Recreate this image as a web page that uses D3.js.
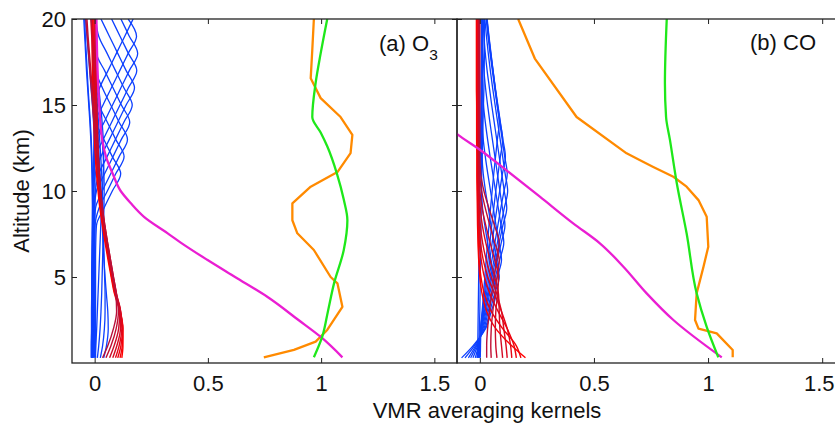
<!DOCTYPE html>
<html><head><meta charset="utf-8">
<script src="https://cdn.jsdelivr.net/npm/d3@7"></script>
<style>
body{margin:0;background:#fff}
svg{display:block;font-family:"Liberation Sans",Arial,Helvetica,sans-serif}
</style>
</head><body>
<svg id="chart" width="835" height="425"></svg>
<script>
// ---------- data ----------
const xTicks = [0, 0.5, 1, 1.5];
const yTicks = [5, 10, 15, 20];
const xLabel = "VMR averaging kernels";
const yLabel = "Altitude (km)";

// altitude grid of the averaging-kernel rows (km)
const kernelAlt = [0.3,1,2,3,4,5,6,7,8,9,10,11,12,13,14,15,16,17,18,19,20];

// (a) O3 — low-level kernels (red)
const o3KernelsLow = [
 [0.120,0.125,0.124,0.112,0.088,0.073,0.059,0.046,0.034,0.023,0.015,0.008,0.003,-0.001,-0.004,-0.007,-0.009,-0.010,-0.011,-0.011,-0.011],
 [0.112,0.122,0.125,0.113,0.090,0.075,0.062,0.049,0.037,0.026,0.018,0.012,0.007,0.003,0.000,-0.003,-0.005,-0.006,-0.007,-0.007,-0.007],
 [0.102,0.116,0.123,0.114,0.092,0.077,0.064,0.051,0.039,0.028,0.021,0.015,0.011,0.007,0.004,0.001,-0.001,-0.002,-0.003,-0.003,-0.003],
 [0.092,0.108,0.120,0.115,0.094,0.079,0.066,0.053,0.041,0.031,0.024,0.018,0.014,0.011,0.008,0.006,0.004,0.003,0.002,0.001,0.001],
 [0.080,0.098,0.114,0.114,0.096,0.081,0.068,0.055,0.043,0.033,0.026,0.021,0.017,0.014,0.012,0.010,0.008,0.007,0.006,0.005,0.005],
 [0.066,0.086,0.106,0.111,0.097,0.083,0.070,0.057,0.045,0.035,0.027,0.021,0.016,0.011,0.007,0.003,-0.001,-0.005,-0.009,-0.013,-0.017],
 [0.050,0.072,0.095,0.105,0.096,0.083,0.070,0.057,0.045,0.034,0.026,0.019,0.013,0.007,0.001,-0.005,-0.011,-0.017,-0.023,-0.029,-0.034],
 [0.035,0.058,0.083,0.097,0.093,0.081,0.068,0.055,0.043,0.032,0.023,0.016,0.009,0.003,-0.003,-0.009,-0.015,-0.021,-0.027,-0.033,-0.039]
];
// (a) O3 — mid and upper-level kernels (blue)
const o3KernelsHigh = [
 [0.040,0.052,0.060,0.058,0.052,0.046,0.041,0.037,0.034,0.031,0.028,0.024,0.020,0.016,0.012,0.008,0.004,0.000,-0.004,-0.008,-0.012],
 [0.025,0.035,0.043,0.046,0.046,0.044,0.042,0.040,0.038,0.036,0.034,0.031,0.027,0.022,0.017,0.012,0.007,0.002,-0.003,-0.008,-0.013],
 [0.012,0.018,0.024,0.028,0.031,0.033,0.035,0.037,0.039,0.041,0.042,0.041,0.038,0.033,0.027,0.020,0.013,0.006,-0.001,-0.008,-0.015],
 [0.002,0.005,0.009,0.012,0.015,0.018,0.021,0.024,0.027,0.030,0.034,0.038,0.040,0.038,0.033,0.026,0.018,0.010,0.002,-0.006,-0.014],
 [-0.008,-0.007,-0.006,-0.005,-0.004,-0.003,-0.002,-0.001,0.000,0.001,0.002,0.001,0.000,-0.002,-0.005,-0.010,-0.016,-0.022,-0.028,-0.034,-0.040],
 [-0.013,-0.013,-0.012,-0.012,-0.011,-0.011,-0.010,-0.010,-0.010,-0.010,-0.011,-0.012,-0.014,-0.017,-0.021,-0.026,-0.031,-0.036,-0.040,-0.044,-0.048],
 [-0.010,-0.010,-0.009,-0.008,-0.007,-0.006,-0.005,-0.005,-0.006,-0.007,-0.008,-0.010,-0.012,-0.015,-0.019,-0.024,-0.029,-0.033,-0.037,-0.041,-0.044],
 [0.004,0.004,0.004,0.004,0.004,0.004,0.004,0.005,0.008,0.041,0.078,0.115,0.078,0.041,0.008,0.006,0.006,0.006,0.006,0.006,0.006],
 [0.000,0.000,0.000,0.000,0.000,0.000,0.000,0.001,0.002,0.019,0.056,0.093,0.130,0.093,0.056,0.019,0.005,0.004,0.004,0.004,0.004],
 [-0.004,-0.004,-0.004,-0.004,-0.004,-0.003,-0.003,-0.002,-0.001,0.004,0.034,0.071,0.108,0.145,0.108,0.071,0.034,0.006,0.003,0.003,0.003],
 [-0.007,-0.007,-0.007,-0.007,-0.006,-0.006,-0.005,-0.004,-0.003,-0.001,0.008,0.044,0.081,0.118,0.155,0.118,0.081,0.044,0.008,0.004,0.003],
 [-0.009,-0.009,-0.009,-0.008,-0.008,-0.007,-0.007,-0.006,-0.005,-0.004,0.003,0.018,0.055,0.092,0.129,0.166,0.129,0.092,0.055,0.018,0.005],
 [-0.011,-0.011,-0.010,-0.010,-0.009,-0.009,-0.008,-0.007,-0.006,-0.005,-0.004,0.003,0.028,0.065,0.102,0.139,0.176,0.139,0.102,0.065,0.028],
 [-0.012,-0.012,-0.011,-0.011,-0.010,-0.010,-0.009,-0.008,-0.007,-0.006,-0.005,-0.003,0.004,0.038,0.075,0.112,0.149,0.186,0.149,0.112,0.075],
 [-0.013,-0.013,-0.012,-0.012,-0.011,-0.011,-0.010,-0.009,-0.008,-0.007,-0.006,-0.004,-0.002,0.006,0.042,0.079,0.116,0.153,0.190,0.153,0.116],
 [-0.014,-0.014,-0.013,-0.013,-0.012,-0.012,-0.011,-0.010,-0.009,-0.008,-0.007,-0.005,-0.003,-0.001,0.003,0.037,0.074,0.111,0.148,0.185,0.148],
 [-0.015,-0.015,-0.014,-0.014,-0.013,-0.013,-0.012,-0.011,-0.010,-0.009,-0.008,-0.006,-0.004,-0.002,0.000,0.002,0.022,0.059,0.096,0.133,0.170]
];

// (b) CO — low-level kernels (red)
const coKernelsLow = [
 [0.200,0.140,0.070,0.030,0.010,0.000,-0.005,-0.008,-0.010,-0.011,-0.012,-0.013,-0.013,-0.014,-0.014,-0.014,-0.015,-0.015,-0.015,-0.015,-0.015],
 [0.180,0.160,0.100,0.050,0.020,0.005,-0.003,-0.006,-0.008,-0.009,-0.010,-0.011,-0.011,-0.011,-0.012,-0.012,-0.012,-0.012,-0.012,-0.012,-0.012],
 [0.160,0.150,0.120,0.080,0.045,0.020,0.006,-0.002,-0.006,-0.007,-0.008,-0.009,-0.009,-0.009,-0.009,-0.010,-0.010,-0.010,-0.010,-0.010,-0.010],
 [0.140,0.135,0.120,0.095,0.065,0.035,0.015,0.003,-0.003,-0.006,-0.007,-0.007,-0.007,-0.007,-0.007,-0.008,-0.008,-0.008,-0.008,-0.008,-0.008],
 [0.120,0.115,0.105,0.095,0.075,0.050,0.028,0.012,0.002,-0.003,-0.005,-0.006,-0.006,-0.006,-0.006,-0.006,-0.006,-0.006,-0.006,-0.006,-0.006],
 [0.100,0.095,0.088,0.085,0.082,0.065,0.045,0.026,0.011,0.002,-0.003,-0.004,-0.004,-0.004,-0.004,-0.004,-0.004,-0.004,-0.004,-0.004,-0.004],
 [0.075,0.070,0.068,0.070,0.078,0.082,0.065,0.045,0.026,0.010,0.000,-0.003,-0.003,-0.003,-0.003,-0.003,-0.003,-0.003,-0.003,-0.003,-0.003],
 [0.050,0.048,0.050,0.057,0.066,0.076,0.085,0.065,0.044,0.024,0.008,-0.001,-0.002,-0.002,-0.002,-0.002,-0.002,-0.002,-0.002,-0.002,-0.002],
 [0.030,0.030,0.034,0.042,0.052,0.063,0.074,0.085,0.064,0.040,0.018,0.004,0.000,0.000,0.000,0.000,0.000,0.000,0.000,0.000,0.000]
];
// (b) CO — upper-level kernels (blue)
const coKernelsHigh = [
 [-0.080,-0.030,0.025,0.050,0.070,0.058,0.046,0.034,0.022,0.012,0.008,0.007,0.007,0.007,0.007,0.007,0.007,0.007,0.007,0.007,0.007],
 [-0.065,-0.024,0.022,0.044,0.064,0.085,0.073,0.061,0.049,0.037,0.025,0.015,0.010,0.009,0.009,0.009,0.009,0.009,0.009,0.009,0.009],
 [-0.050,-0.018,0.018,0.037,0.056,0.076,0.095,0.083,0.071,0.059,0.047,0.035,0.024,0.015,0.011,0.010,0.010,0.010,0.010,0.010,0.010],
 [-0.040,-0.014,0.014,0.032,0.050,0.068,0.087,0.105,0.093,0.081,0.069,0.057,0.045,0.034,0.024,0.016,0.012,0.011,0.011,0.011,0.011],
 [-0.030,-0.010,0.011,0.027,0.043,0.060,0.077,0.094,0.110,0.099,0.088,0.077,0.066,0.055,0.044,0.034,0.025,0.018,0.014,0.013,0.012],
 [-0.020,-0.006,0.008,0.023,0.038,0.053,0.069,0.085,0.101,0.118,0.107,0.096,0.085,0.074,0.063,0.052,0.042,0.032,0.024,0.018,0.015],
 [-0.013,-0.003,0.006,0.020,0.034,0.048,0.062,0.077,0.092,0.107,0.122,0.111,0.100,0.089,0.078,0.067,0.056,0.046,0.037,0.029,0.022],
 [-0.008,-0.001,0.005,0.017,0.029,0.041,0.053,0.066,0.079,0.092,0.106,0.120,0.109,0.098,0.087,0.076,0.065,0.055,0.045,0.036,0.028],
 [-0.003,0.001,0.004,0.014,0.024,0.034,0.044,0.054,0.064,0.075,0.087,0.099,0.112,0.101,0.090,0.079,0.068,0.058,0.048,0.039,0.031],
 [0.000,0.002,0.004,0.012,0.020,0.028,0.036,0.044,0.052,0.061,0.070,0.080,0.090,0.100,0.089,0.078,0.067,0.057,0.047,0.038,0.030],
 [0.002,0.003,0.004,0.010,0.016,0.022,0.028,0.034,0.040,0.047,0.054,0.061,0.069,0.077,0.085,0.076,0.067,0.058,0.049,0.040,0.032],
 [-0.006,-0.004,-0.002,0.000,0.001,0.002,0.003,0.004,0.005,0.006,0.007,0.008,0.010,0.012,0.014,0.016,0.018,0.019,0.020,0.020,0.020],
 [-0.010,-0.009,-0.008,-0.007,-0.006,-0.005,-0.004,-0.003,-0.002,-0.001,0.000,0.001,0.002,0.003,0.004,0.005,0.006,0.007,0.008,0.008,0.008]
];

// (a) O3 — summary profiles
const o3OrangeAlt = [0.33,0.76,1.24,1.92,3.27,4.63,5.0,6.57,7.54,8.3,9.28,10.25,11.1,12.2,13.26,14.3,15.4,16.55,18.2,20];
const o3OrangeVal = [0.747,0.88,0.976,1.027,1.094,1.072,1.042,0.968,0.895,0.873,0.873,0.954,1.072,1.13,1.138,1.086,0.998,0.954,0.961,0.968];
const o3MagentaAlt = [0.33,1.5,2.5,3.85,5,6,7,7.55,8.5,9.3,10,11,12,13,14,15,17,20];
const o3MagentaVal = [1.094,1.0,0.90,0.762,0.62,0.497,0.38,0.321,0.218,0.159,0.115,0.08,0.05,0.033,0.025,0.02,0.013,0.008];
const o3GreenAlt = [0.33,1.53,3,4.63,6.57,8.3,9.5,11.0,12.6,13.4,14.3,16.3,18.0,20];
const o3GreenVal = [0.968,1.005,1.03,1.057,1.10,1.116,1.10,1.07,1.027,0.998,0.961,0.976,0.998,1.027];

// (b) CO — summary profiles
const coOrangeAlt = [0.33,0.76,1.72,2.0,2.5,4.05,5.6,6.76,8.5,9.47,10.25,10.83,11.4,11.8,12.19,14.3,17.7,20];
const coOrangeVal = [1.108,1.108,1.038,0.958,0.943,0.95,0.98,1.001,0.994,0.958,0.906,0.848,0.76,0.70,0.643,0.424,0.241,0.168];
const coMagentaAlt = [0.33,2.5,4.05,5.6,6.96,8.12,9.67,11.2,12.4,13.26,14];
const coMagentaVal = [1.06,0.848,0.731,0.629,0.526,0.409,0.263,0.117,0.0,-0.095,-0.16];
const coGreenAlt = [0.33,2.1,4.05,7.54,10.45,12.97,14.3,16.26,20];
const coGreenVal = [1.045,0.994,0.95,0.906,0.863,0.833,0.816,0.811,0.819];

// ---------- drawing ----------
const svg = d3.select("#chart");
const plotTop = 19, plotBottom = 363;
const y = d3.scaleLinear().domain([0, 20]).range([plotBottom, plotTop]);
const xDomain = [-0.1, 1.6];

const panels = [
  {key:"a", x: d3.scaleLinear().domain(xDomain).range([72, 457]), yLabels: true,
   low: o3KernelsLow, high: o3KernelsHigh,
   orange:[o3OrangeAlt,o3OrangeVal], magenta:[o3MagentaAlt,o3MagentaVal], green:[o3GreenAlt,o3GreenVal]},
  {key:"b", x: d3.scaleLinear().domain(xDomain).range([457, 845]), yLabels: false,
   low: coKernelsLow, high: coKernelsHigh,
   orange:[coOrangeAlt,coOrangeVal], magenta:[coMagentaAlt,coMagentaVal], green:[coGreenAlt,coGreenVal]}
];

const blue = "#0d40ff";
const redScale = d3.interpolateRgb("#ff0000", "#b8103a");
const fontSize = 22;

panels.forEach(p => {
  const x = p.x;
  const [x0, x1] = x.range();
  const clipId = "clip-" + p.key;
  svg.append("clipPath").attr("id", clipId)
    .append("rect").attr("x", x0).attr("y", plotTop).attr("width", x1 - x0).attr("height", plotBottom - plotTop);
  const g = svg.append("g").attr("clip-path", `url(#${clipId})`);

  const kLine = d3.line().x(d => x(d[1])).y(d => y(d[0])).curve(d3.curveMonotoneY);
  const lin = d3.line().x(d => x(d[1])).y(d => y(d[0]));
  const smooth = d3.line().x(d => x(d[1])).y(d => y(d[0])).curve(d3.curveMonotoneY);

  g.append("g").selectAll("path").data(p.high).join("path")
    .attr("d", row => kLine(kernelAlt.map((a, i) => [a, row[i]])))
    .attr("fill", "none").attr("stroke", blue).attr("stroke-width", 1.3);
  const nLow = p.low.length;
  g.append("g").selectAll("path").data(p.low).join("path")
    .attr("d", row => kLine(kernelAlt.map((a, i) => [a, row[i]])))
    .attr("fill", "none").attr("stroke", (d, i) => redScale(i / (nLow - 1))).attr("stroke-width", 1.4);

  const zip = ([a, v]) => a.map((al, i) => [al, v[i]]);
  g.append("path").attr("d", lin(zip(p.orange))).attr("fill", "none")
    .attr("stroke", "#ff8a00").attr("stroke-width", 2.3).attr("stroke-linejoin", "round");
  g.append("path").attr("d", smooth(zip(p.magenta))).attr("fill", "none")
    .attr("stroke", "#ea1ed2").attr("stroke-width", 2.3);
  g.append("path").attr("d", smooth(zip(p.green))).attr("fill", "none")
    .attr("stroke", "#1ee81a").attr("stroke-width", 2.3);

  const styleAxis = sel => {
    sel.select(".domain").remove();
    sel.attr("font-size", fontSize).attr("font-family", null).attr("color", "#222");
    sel.selectAll(".tick line").attr("stroke-width", 1);
    sel.selectAll(".tick text").attr("fill", "#111");
  };
  const bottomAxis = svg.append("g").attr("transform", `translate(0,${plotBottom})`)
    .call(d3.axisBottom(x).tickValues(xTicks).tickSize(-5).tickPadding(12).tickFormat(d => String(d)))
    .call(styleAxis);
  // keep the right-most label of panel (b) inside the window edge
  if (p.key === "b") {
    bottomAxis.selectAll(".tick text").filter(d => x(d) + 16 > 835)
      .attr("text-anchor", "end").attr("x", d => 834 - x(d));
  }
  svg.append("g").attr("transform", `translate(0,${plotTop})`)
    .call(d3.axisTop(x).tickValues(xTicks).tickSize(-5).tickFormat(""))
    .call(styleAxis);
  svg.append("g").attr("transform", `translate(${x0},0)`)
    .call(d3.axisLeft(y).tickValues(yTicks).tickSize(-5).tickPadding(6)
      .tickFormat(p.yLabels ? (d => String(d)) : ""))
    .call(styleAxis);
  svg.append("g").attr("transform", `translate(${x1},0)`)
    .call(d3.axisRight(y).tickValues(yTicks).tickSize(-5).tickFormat(""))
    .call(styleAxis);

  svg.append("rect").attr("x", x0).attr("y", plotTop).attr("width", x1 - x0).attr("height", plotBottom - plotTop)
    .attr("fill", "none").attr("stroke", "#222").attr("stroke-width", 1.3);
});

const tA = svg.append("text").attr("x", 379).attr("y", 50.5).attr("font-size", fontSize).attr("fill", "#111");
tA.append("tspan").text("(a) O");
tA.append("tspan").attr("font-size", 15.5).attr("dy", 9).text("3");
svg.append("text").attr("x", 750).attr("y", 50).attr("font-size", fontSize).attr("fill", "#111").text("(b) CO");

svg.append("text").attr("x", 487).attr("y", 417.5).attr("text-anchor", "middle")
  .attr("font-size", fontSize).attr("fill", "#111").text(xLabel);
svg.append("text").attr("transform", "translate(29,191) rotate(-90)").attr("text-anchor", "middle")
  .attr("font-size", fontSize).attr("fill", "#111").text(yLabel);
</script>
</body></html>
